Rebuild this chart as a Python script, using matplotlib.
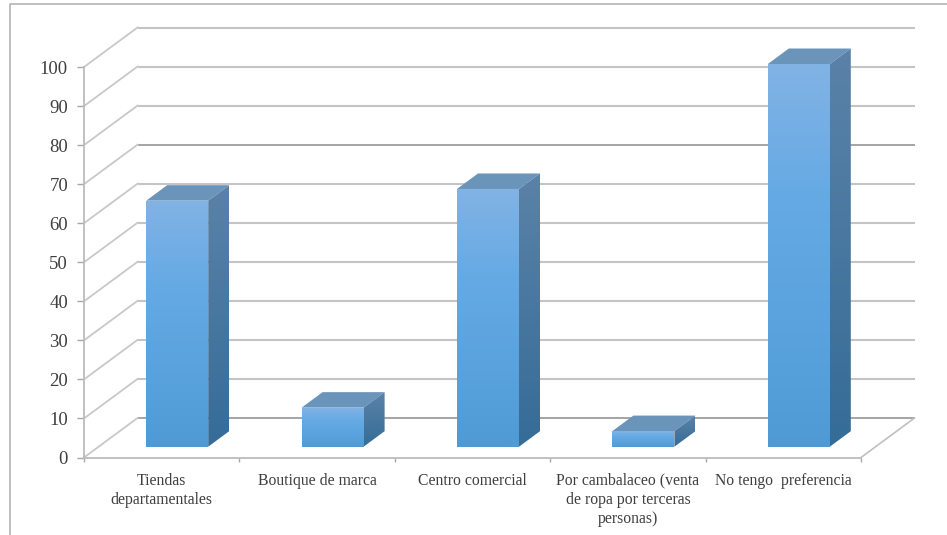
import numpy as np
import matplotlib
matplotlib.use("Agg")
import matplotlib.pyplot as plt
from matplotlib.patches import Polygon
from matplotlib.colors import LinearSegmentedColormap
from matplotlib.lines import Line2D

categories = ["Tiendas\ndepartamentales", "Boutique de marca", "Centro comercial",
              "Por cambalaceo (venta\nde ropa por terceras\npersonas)", "No tengo  preferencia"]
values = [63, 10, 66, 4, 98]
y_ticks = list(range(0, 101, 10))
dark_grid = [0, 70]

W, H = 947, 535
fig = plt.figure(figsize=(W / 100, H / 100), dpi=100, facecolor="white")
L, R, B, T = 84, 861, 457.5, 67
ax = fig.add_axes([L / W, 1 - B / H, (R - L) / W, (B - T) / H])
ax.set_xlim(0, 5)
ax.set_ylim(0, 100)
ax.set_facecolor("none")

ux = (R - L) / 5      # px per category
uy = (B - T) / 100    # px per value unit
def off(px, py):      # pixel depth offset to data units
    return px / ux, py / uy

GRID_DX, GRID_DY = off(53.5, 39.5)
BAR_DX0, BAR_DY0 = off(15.5, 10.8)
BAR_DX, BAR_DY = off(21, 15.5)
BAR_W = 62 / ux
SERIF = "Liberation Serif"
TXT = "#3f3f3f"

# walls
for v in y_ticks:
    dark = v in dark_grid
    c, lw = ("#8c8c8c", 1.1) if dark else ("#c4c4c4", 1.5)
    ax.plot([5 + GRID_DX, GRID_DX], [v + GRID_DY] * 2, color=c, lw=lw,
            clip_on=False, zorder=1, solid_capstyle="butt")
    ax.plot([GRID_DX, 0], [v + GRID_DY, v], color="#c8c8c8", lw=1.3,
            clip_on=False, zorder=1)
ax.plot([5, 5 + GRID_DX], [0, GRID_DY], color="#c0c0c0", lw=1.2, clip_on=False, zorder=1)

# axes
for s in ("top", "right"):
    ax.spines[s].set_visible(False)
for s in ("left", "bottom"):
    ax.spines[s].set_color("#bcbcbc")
    ax.spines[s].set_linewidth(1.3)
    ax.spines[s].set_zorder(2)
ax.set_yticks(y_ticks)
ax.set_yticklabels([str(v) for v in y_ticks], family=SERIF, fontsize=13.5, color=TXT)
ax.tick_params(axis="y", length=5, width=1, color="#a8a8a8", pad=6.5)
ax.set_xticks(range(6))
ax.set_xticklabels([""] * 6)
ax.tick_params(axis="x", length=3, width=1, color="#a8a8a8")
ax.set_xticks(np.arange(5) + 0.5, minor=True)
ax.set_xticklabels(categories, minor=True, family=SERIF, fontsize=11.3, color=TXT,
                   linespacing=1.25)
ax.tick_params(axis="x", which="minor", length=0, pad=11)

front_cmap = LinearSegmentedColormap.from_list("f", ["#82b3e5", "#66aae4", "#5aa3de", "#4f9ad5"])
side_cmap = LinearSegmentedColormap.from_list("s", ["#5b82a8", "#48779f", "#356c98"])
grad = np.linspace(0, 1, 256).reshape(-1, 1)

def shaded(poly_pts, cmap, extent, z):
    poly = Polygon(poly_pts, closed=True, transform=ax.transData, fc="none", ec="none",
                   clip_on=False)
    ax.add_patch(poly)
    im = ax.imshow(grad, cmap=cmap, extent=extent, aspect="auto", zorder=z, origin="upper")
    im.set_clip_box(fig.bbox)
    im.set_clip_path(poly)

for i, v in enumerate(values):
    x0 = i + 0.5 + BAR_DX0 - BAR_W / 2
    x1 = x0 + BAR_W
    y0 = BAR_DY0
    y1 = y0 + v
    # top face
    ax.add_patch(Polygon([(x0, y1), (x1, y1), (x1 + BAR_DX, y1 + BAR_DY), (x0 + BAR_DX, y1 + BAR_DY)],
                         closed=True, fc="#6b94ba", ec="none", zorder=3, clip_on=False))
    # side face
    shaded([(x1, y0), (x1 + BAR_DX, y0 + BAR_DY), (x1 + BAR_DX, y1 + BAR_DY), (x1, y1)],
           side_cmap, (x1, x1 + BAR_DX, y0, y1 + BAR_DY), 3)
    # front face
    shaded([(x0, y0), (x1, y0), (x1, y1), (x0, y1)], front_cmap, (x0, x1, y0, y1), 4)

ax.set_xlim(0, 5)
ax.set_ylim(0, 100)

# outer frame of the slide
fig.add_artist(Line2D([9.5 / W, 9.5 / W, 1], [0, 1 - 3.5 / H, 1 - 3.5 / H], color="#b4b4b4", lw=1.2))

fig.savefig("out.png", dpi=100, facecolor="white")
